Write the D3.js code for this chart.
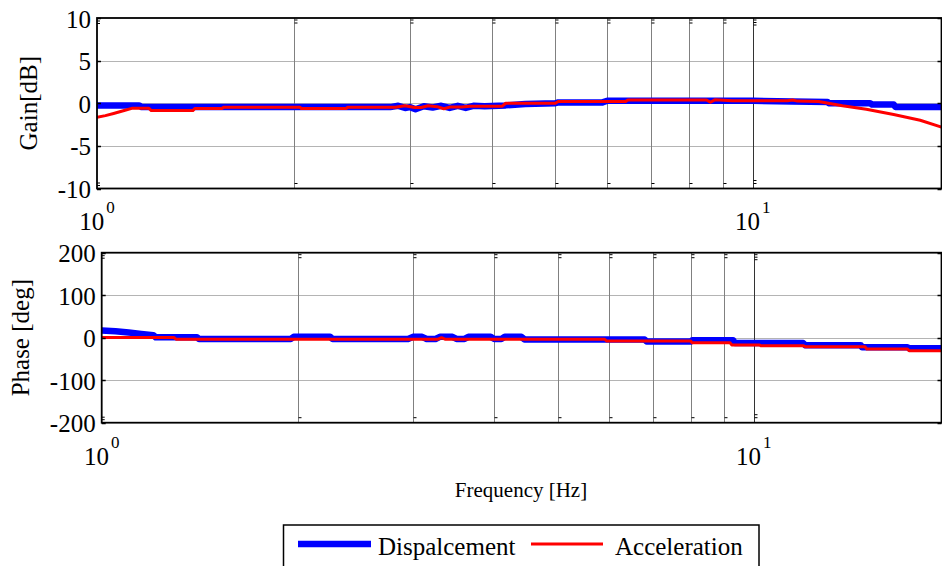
<!DOCTYPE html>
<html>
<head>
<meta charset="utf-8">
<script src="https://cdn.jsdelivr.net/npm/d3@7"></script>
<style>
  body { margin: 0; background: #fff; }
  svg { display: block; }
</style>
</head>
<body>
<svg id="chart" width="942" height="566" font-family="'Liberation Serif', 'Times New Roman', Times, 'DejaVu Serif', serif"></svg>
<script>
// ---- data ----------------------------------------------------------------
const seriesNames = ["Dispalcement", "Acceleration"];
const gainTicks = [-10, -5, 0, 5, 10];
const phaseTicks = [-200, -100, 0, 100, 200];
const freqGrid = [2, 3, 4, 5, 6, 7, 8, 9, 10];
const decadeTicks = [1, 10];
const decadeExponents = ["0", "1"];
const freqDomain = [1, 19.4];

// gain [dB] vs frequency [Hz]
const gainDisplacement = [
  [1.00, -0.25], [1.16, -0.25], [1.17, -0.45], [2.80, -0.45],
  [2.88, -0.3], [2.95, -0.55], [3.00, -0.45], [3.06, -0.7], [3.15, -0.35],
  [3.25, -0.5], [3.35, -0.3], [3.45, -0.55], [3.55, -0.3], [3.65, -0.55],
  [3.75, -0.3], [3.90, -0.35], [4.20, -0.25], [4.50, -0.1], [5.00, 0.0],
  [5.05, 0.1], [5.90, 0.1], [6.00, 0.3], [10.0, 0.3], [11.5, 0.2],
  [13.0, 0.15], [13.05, 0.0], [15.1, 0.0], [15.2, -0.15], [16.4, -0.15],
  [16.5, -0.43], [19.4, -0.43]
];
const gainAcceleration = [
  [1.00, -1.65], [1.03, -1.45], [1.06, -1.2], [1.10, -0.85], [1.13, -0.6],
  [1.20, -0.6], [1.21, -0.86], [1.40, -0.86], [1.41, -0.62], [1.55, -0.62],
  [1.56, -0.47], [2.04, -0.47], [2.05, -0.62], [2.40, -0.62], [2.41, -0.47],
  [2.85, -0.47], [2.95, -0.3], [3.05, -0.5], [3.12, -0.5], [3.20, -0.3],
  [3.30, -0.4], [3.38, -0.65], [3.45, -0.45], [3.60, -0.45], [3.70, -0.35],
  [4.15, -0.35], [4.20, 0.0], [5.00, 0.0], [5.05, 0.2], [6.40, 0.2],
  [6.45, 0.38], [8.50, 0.38], [8.62, 0.12], [8.75, 0.4], [9.30, 0.3],
  [11.3, 0.3], [11.5, 0.38], [11.7, 0.25], [12.6, 0.2], [13.7, -0.3],
  [14.9, -0.7], [16.4, -1.33], [18.0, -2.0], [19.4, -2.8]
];

// phase [deg] vs frequency [Hz]
const phaseDisplacement = [
  [1.00, 17], [1.05, 15], [1.10, 12], [1.15, 9], [1.20, 6], [1.21, 1],
  [1.40, 1], [1.41, -3], [1.95, -3], [1.97, 2], [2.24, 2], [2.26, -3],
  [2.95, -3], [3.00, 2], [3.10, 2], [3.15, -3], [3.25, -3], [3.30, 2],
  [3.45, 2], [3.50, -3], [3.60, -3], [3.65, 2], [3.95, 2], [4.00, -3],
  [4.10, -3], [4.15, 2], [4.40, 2], [4.45, -4], [6.80, -4], [6.85, -9],
  [8.00, -9], [8.05, -6], [9.30, -6], [9.35, -12.5], [11.9, -12.5],
  [12.0, -18], [14.6, -18], [14.65, -22.6], [17.2, -22.6], [17.3, -25],
  [19.4, -25]
];
const phaseAcceleration = [
  [1.00, 0.5], [1.29, 0.5], [1.30, -3.5], [3.28, -3.5], [3.32, 0],
  [3.36, -3.5], [5.90, -3.5], [5.95, -8], [8.00, -8], [8.05, -12],
  [9.20, -12], [9.25, -17], [10.2, -17], [10.25, -19], [11.9, -19],
  [12.0, -21], [14.8, -21], [14.9, -26.5], [17.2, -26.5], [17.3, -30.5],
  [19.4, -30.5]
];

// ---- drawing -------------------------------------------------------------
const svg = d3.select("#chart");
const seriesColor = ["#0000ff", "#ff0000"];
const seriesWidth = [6.5, 3];

const panels = [
  { id: "gain", left: 97, right: 941.5, top: 18, bottom: 188.5,
    yDomain: [-10, 10], ticks: gainTicks, label: "Gain[dB]", labelX: 37,
    series: [gainDisplacement, gainAcceleration], decadeBaseline: 230 },
  { id: "phase", left: 101.7, right: 941.5, top: 252.7, bottom: 422.7,
    yDomain: [-200, 200], ticks: phaseTicks, label: "Phase [deg]", labelX: 29,
    series: [phaseDisplacement, phaseAcceleration], decadeBaseline: 465 }
];

panels.forEach(p => {
  const x = d3.scaleLog().domain(freqDomain).range([p.left, p.right]);
  const y = d3.scaleLinear().domain(p.yDomain).range([p.bottom, p.top]);
  const g = svg.append("g");

  svg.append("clipPath").attr("id", "clip-" + p.id)
    .append("rect")
    .attr("x", p.left).attr("y", p.top)
    .attr("width", p.right - p.left).attr("height", p.bottom - p.top);

  // horizontal grid
  g.append("g").selectAll("line")
    .data(p.ticks.slice(1, -1))
    .join("line")
    .attr("x1", p.left).attr("x2", p.right)
    .attr("y1", d => Math.round(y(d)) + 0.5).attr("y2", d => Math.round(y(d)) + 0.5)
    .attr("stroke", "#b4b4b4").attr("stroke-width", 1);

  // vertical grid
  g.append("g").selectAll("line")
    .data(freqGrid)
    .join("line")
    .attr("x1", d => Math.round(x(d)) + 0.5).attr("x2", d => Math.round(x(d)) + 0.5)
    .attr("y1", p.top).attr("y2", p.bottom)
    .attr("stroke", d => d === 10 ? "#333" : "#808080").attr("stroke-width", 1);

  // small marks at the ends of each vertical grid line
  freqGrid.forEach(f => {
    const xx = Math.round(x(f)) + 0.5;
    const topMarks = f === 10 ? [2, 4.5, 7] : [2, 5];
    const botMarks = f === 10 ? [-8, -5] : [-5];
    topMarks.concat(botMarks.map(m => p.bottom - p.top + m)).forEach(o => {
      g.append("line")
        .attr("x1", xx).attr("x2", xx + 3)
        .attr("y1", p.top + o).attr("y2", p.top + o)
        .attr("stroke", "#000").attr("stroke-width", 1);
    });
  });

  // curves
  const line = d3.line().x(d => x(d[0])).y(d => y(d[1]));
  p.series.forEach((s, i) => {
    g.append("path")
      .datum(s)
      .attr("clip-path", `url(#clip-${p.id})`)
      .attr("d", line)
      .attr("fill", "none")
      .attr("stroke", seriesColor[i])
      .attr("stroke-width", seriesWidth[i])
      .attr("stroke-linejoin", "round")
      .attr("stroke-linecap", "butt");
  });

  // frame
  g.append("rect")
    .attr("x", p.left).attr("y", p.top)
    .attr("width", p.right - p.left).attr("height", p.bottom - p.top)
    .attr("fill", "none").attr("stroke", "#000").attr("stroke-width", 1.8);

  // y ticks (inward, both sides)
  p.ticks.forEach(t => {
    const yy = Math.round(y(t)) + 0.5;
    [[p.left, p.left + 4], [p.right - 4, p.right]].forEach(([a, b]) => {
      g.append("line").attr("x1", a).attr("x2", b)
        .attr("y1", yy).attr("y2", yy)
        .attr("stroke", "#000").attr("stroke-width", 1.5);
    });
  });
  // minor tick stubs near the outer y limits
  [p.top + 3, p.top + 5.5, p.bottom - 3, p.bottom - 5.5].forEach(yy => {
    g.append("line").attr("x1", p.left).attr("x2", p.left + 3)
      .attr("y1", yy).attr("y2", yy)
      .attr("stroke", "#000").attr("stroke-width", 1);
  });

  // y tick labels
  g.append("g").selectAll("text")
    .data(p.ticks)
    .join("text")
    .attr("x", p.left - 6)
    .attr("y", d => y(d) + 9.5)
    .attr("text-anchor", "end")
    .attr("font-size", 25)
    .text(d => d);

  // decade labels 10^n
  decadeTicks.forEach((f, i) => {
    const t = g.append("text")
      .attr("x", x(f))
      .attr("y", p.decadeBaseline)
      .attr("text-anchor", "middle")
      .attr("font-size", 25);
    t.append("tspan").text("10");
    t.append("tspan").attr("font-size", 17).attr("dy", -17).attr("dx", 2).text(decadeExponents[i]);
  });

  // y axis title
  g.append("text")
    .attr("transform", `translate(${p.labelX},${(p.top + p.bottom) / 2}) rotate(-90)`)
    .attr("text-anchor", "middle")
    .attr("font-size", 25)
    .text(p.label);
});

// x axis title
svg.append("text")
  .attr("x", 521).attr("y", 497)
  .attr("text-anchor", "middle")
  .attr("font-size", 21)
  .text("Frequency [Hz]");

// legend
const legend = svg.append("g");
legend.append("rect")
  .attr("x", 283.5).attr("y", 525)
  .attr("width", 475.5).attr("height", 50)
  .attr("fill", "#fff").attr("stroke", "#000").attr("stroke-width", 1.5);
const legendItems = [
  { x1: 298, x2: 371, tx: 378 },
  { x1: 531, x2: 603, tx: 615 }
];
legendItems.forEach((it, i) => {
  legend.append("line")
    .attr("x1", it.x1).attr("x2", it.x2)
    .attr("y1", 544).attr("y2", 544)
    .attr("stroke", seriesColor[i]).attr("stroke-width", seriesWidth[i]);
  legend.append("text")
    .attr("x", it.tx).attr("y", 555)
    .attr("font-size", 25)
    .text(seriesNames[i]);
});
</script>
</body>
</html>
